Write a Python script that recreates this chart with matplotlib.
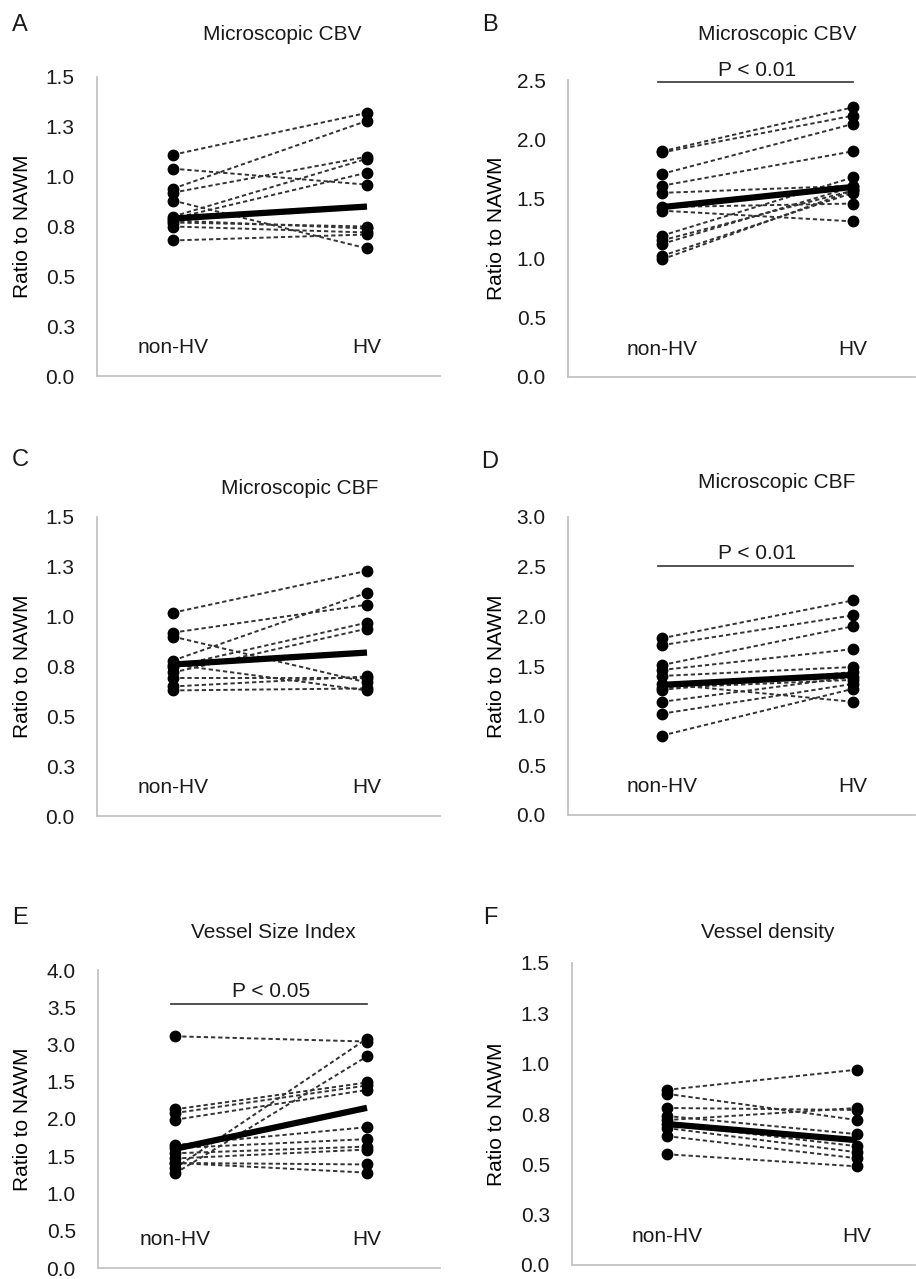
import matplotlib
matplotlib.use("Agg")
import matplotlib.pyplot as plt
from matplotlib import transforms

plt.rcParams.update({
    "font.family": ["Liberation Sans", "DejaVu Sans"],
    "font.size": 15,
    "text.color": "#1a1a1a",
})

W, H, DPI = 916, 1279, 100

GROUPS = ["non-HV", "HV"]

# ── values (one entry per patient) ───────────────────────────────
# A: microscopic CBV
a_non = [1.11, 1.04, 0.94, 0.92, 0.88, 0.80, 0.79, 0.78, 0.77, 0.75, 0.68]
a_hv = [1.32, 0.96, 1.28, 1.10, 0.64, 1.09, 1.02, 0.74, 0.75, 0.72, 0.71]
a_line = [0.79, 0.85]

# B: microscopic CBV
b_non = [1.90, 1.89, 1.71, 1.61, 1.55, 1.43, 1.40, 1.19, 1.15, 1.12, 1.02, 0.99]
b_hv = [2.27, 2.20, 2.13, 1.90, 1.61, 1.46, 1.31, 1.68, 1.57, 1.60, 1.55, 1.57]
b_line = [1.43, 1.60]

# C: microscopic CBF
c_non = [1.02, 0.92, 0.90, 0.78, 0.75, 0.72, 0.69, 0.65, 0.63, 0.76]
c_hv = [1.23, 1.06, 0.67, 1.12, 0.97, 0.94, 0.69, 0.70, 0.64, 0.63]
c_line = [0.76, 0.82]

# D: microscopic CBF
d_non = [1.78, 1.71, 1.51, 1.46, 1.40, 1.32, 1.26, 1.14, 1.02, 0.80, 1.28]
d_hv = [2.16, 2.01, 1.90, 1.67, 1.49, 1.14, 1.44, 1.39, 1.32, 1.27, 1.36]
d_line = [1.31, 1.41]

# E: vessel size index
e_non = [3.11, 2.13, 2.08, 1.99, 1.34, 1.27, 1.65, 1.61, 1.54, 1.47, 1.41, 1.41]
e_hv = [3.04, 2.49, 2.45, 2.39, 3.08, 2.84, 1.89, 1.73, 1.63, 1.59, 1.39, 1.28]
e_line = [1.60, 2.15]

# F: vessel density
f_non = [0.87, 0.85, 0.78, 0.74, 0.72, 0.70, 0.68, 0.64, 0.55]
f_hv = [0.97, 0.72, 0.77, 0.65, 0.78, 0.59, 0.56, 0.53, 0.49]
f_line = [0.70, 0.62]

# tick values and the labels exactly as printed in the figure
ticks_15 = [0, 0.25, 0.5, 0.75, 1.0, 1.25, 1.5]
labels_15 = ["0.0", "0.3", "0.5", "0.8", "1.0", "1.3", "1.5"]
ticks_25 = [0, 0.5, 1.0, 1.5, 2.0, 2.5]
labels_25 = ["0.0", "0.5", "1.0", "1.5", "2.0", "2.5"]
ticks_30 = [0, 0.5, 1.0, 1.5, 2.0, 2.5, 3.0]
labels_30 = ["0.0", "0.5", "1.0", "1.5", "2.0", "2.5", "3.0"]
ticks_40 = [0, 0.5, 1.0, 1.5, 2.0, 2.5, 3.0, 3.5, 4.0]
labels_40 = ["0.0", "0.5", "1.0", "1.5", "2.0", "1.5", "3.0", "3.5", "4.0"]

# ── layout (pixel boxes: left, top, right, bottom) ───────────────
panels = [
    dict(letter="A", title="Microscopic CBV", non=a_non, hv=a_hv, line=a_line,
         ticks=ticks_15, labels=labels_15, box=(97, 77, 440, 376), cats=(173, 367),
         title_xy=(282, 35), letter_xy=(20, 25), ylab_x=32, p=None),
    dict(letter="B", title="Microscopic CBV", non=b_non, hv=b_hv, line=b_line,
         ticks=ticks_25, labels=labels_25, box=(568, 80, 915, 377), cats=(662, 853),
         title_xy=(777, 35), letter_xy=(490, 25), ylab_x=506, p=("P < 0.01", 2.48, 2.58)),
    dict(letter="C", title="Microscopic CBF", non=c_non, hv=c_hv, line=c_line,
         ticks=ticks_15, labels=labels_15, box=(97, 517, 440, 816), cats=(173, 367),
         title_xy=(300, 488), letter_xy=(20, 460), ylab_x=32, p=None),
    dict(letter="D", title="Microscopic CBF", non=d_non, hv=d_hv, line=d_line,
         ticks=ticks_30, labels=labels_30, box=(568, 517, 915, 815), cats=(662, 853),
         title_xy=(777, 482), letter_xy=(490, 462), ylab_x=506, p=("P < 0.01", 2.51, 2.63)),
    dict(letter="E", title="Vessel Size Index", non=e_non, hv=e_hv, line=e_line,
         ticks=ticks_40, labels=labels_40, box=(98, 970, 440, 1268), cats=(175, 367),
         title_xy=(273, 932), letter_xy=(20, 918), ylab_x=32, p=("P < 0.05", 3.54, 3.71)),
    dict(letter="F", title="Vessel density", non=f_non, hv=f_hv, line=f_line,
         ticks=ticks_15, labels=labels_15, box=(572, 963, 915, 1265), cats=(667, 857),
         title_xy=(768, 932), letter_xy=(490, 918), ylab_x=506, p=None),
]

fig = plt.figure(figsize=(W / DPI, H / DPI), dpi=DPI)

SPINE = "#c4c4c4"
DASH = "#333333"

for pnl in panels:
    x0, y0, x1, y1 = pnl["box"]
    ax = fig.add_axes([x0 / W, 1 - y1 / H, (x1 - x0) / W, (y1 - y0) / H])
    c0, c1 = pnl["cats"]
    span = c1 - c0
    ax.set_xlim((x0 - c0) / span, (x1 - c0) / span)
    ax.set_ylim(0, pnl["ticks"][-1])

    # individual patients
    for n, h in zip(pnl["non"], pnl["hv"]):
        ax.plot([0, 1], [n, h], ls=(0, (2.2, 1.5)), lw=1.4, color=DASH,
                marker="o", ms=7.5, mfc="black", mec="black", zorder=2)
    # group line
    ax.plot([0, 1], pnl["line"], color="black", lw=4.5,
            solid_capstyle="butt", zorder=3)

    if pnl["p"] is not None:
        txt, ybar, ytxt = pnl["p"]
        ax.plot([-0.02, 1.0], [ybar, ybar], color="#333333", lw=1.2, clip_on=False)
        ax.text(0.5, ytxt, txt, ha="center", va="center", fontsize=15)

    trans = transforms.blended_transform_factory(ax.transData, ax.transAxes)
    for i, g in enumerate(GROUPS):
        ax.text(i, 0.094, g, transform=trans, ha="center", va="center", fontsize=15)

    ax.set_yticks(pnl["ticks"])
    ax.set_yticklabels(pnl["labels"])
    ax.set_xticks([])
    ax.tick_params(axis="y", length=0, pad=16, labelsize=15, colors="#1a1a1a")
    for s in ("top", "right"):
        ax.spines[s].set_visible(False)
    for s in ("left", "bottom"):
        ax.spines[s].set_color(SPINE)
        ax.spines[s].set_linewidth(1.3)

    ax.set_ylabel("Ratio to NAWM", fontsize=15)
    ax.yaxis.set_label_coords((pnl["ylab_x"] - x0) / (x1 - x0), 0.5)

    tx, ty = pnl["title_xy"]
    fig.text(tx / W, 1 - ty / H, pnl["title"], ha="center", va="center", fontsize=15)
    lx, ly = pnl["letter_xy"]
    fig.text(lx / W, 1 - ly / H, pnl["letter"], ha="center", va="center", fontsize=17)

fig.savefig("out.png", dpi=DPI)
